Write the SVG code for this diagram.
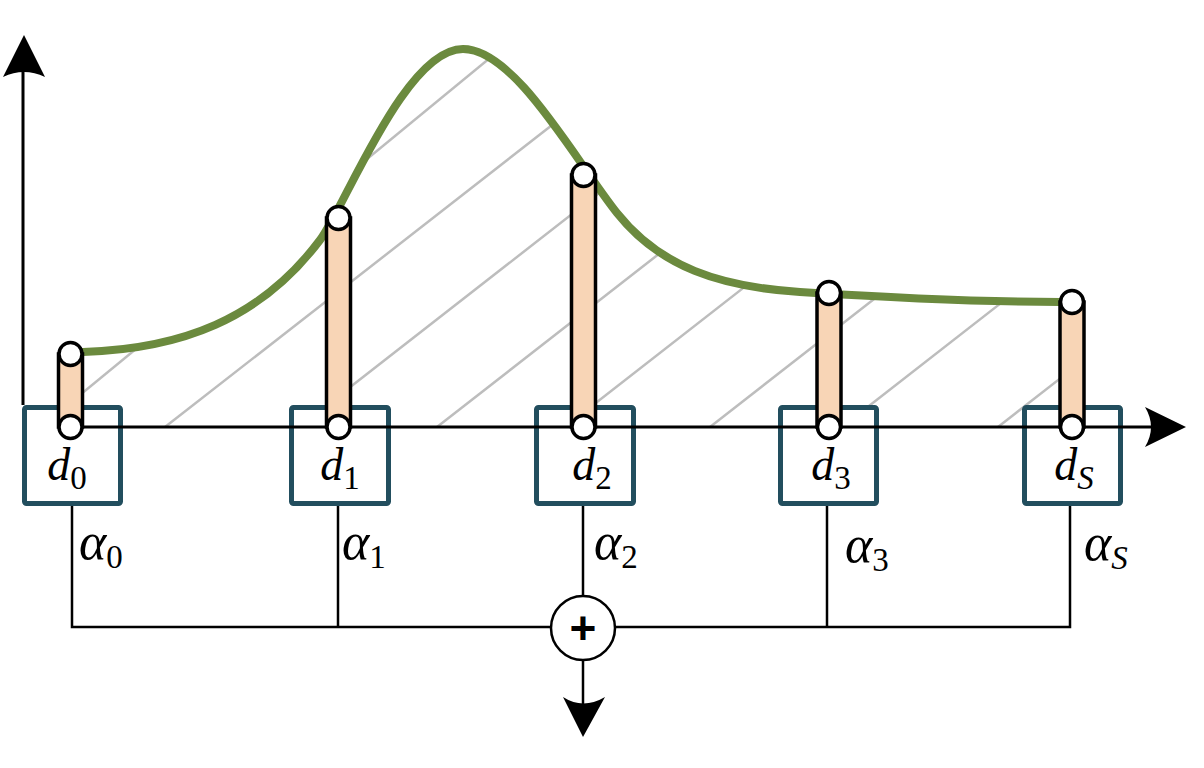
<svg xmlns="http://www.w3.org/2000/svg" width="1204" height="768" viewBox="0 0 1204 768">
<style>
.box{fill:#ffffff;stroke:#224e5e;stroke-width:5}
.tube{fill:#f8d5b6;stroke:#000;stroke-width:3.5}
.cap{fill:#ffffff;stroke:#000;stroke-width:3.5}
.hatch{stroke:#bdbdbd;stroke-width:2.5;fill:none}
.wire{stroke:#000;stroke-width:2.5;fill:none}
.axis{stroke:#000;stroke-width:3;fill:none}
.lbl{font-family:"Liberation Serif","DejaVu Serif",serif;font-size:46px;font-style:italic;fill:#000}
.alb{font-family:"Liberation Serif","DejaVu Serif",serif;font-size:52px;font-style:italic;fill:#000}
.sub{font-size:33px;font-style:normal}
.subi{font-size:33px;font-style:italic}
</style>
<defs>
<clipPath id="area">
<path d="M71,427 L71,352 L83,352 C180,349 260,320 320,240 C345,207 405,49 463,49 C515,49 575,160 617,213 C660,267 720,287 800,292 C880,297 980,302 1060,302 L1072,302 L1072,427 Z"/>
</clipPath>
</defs>
<g id="hatching" clip-path="url(#area)">
<line class="hatch" x1="41" y1="427" x2="541" y2="16"/>
<line class="hatch" x1="165" y1="427" x2="765" y2="-41"/>
<line class="hatch" x1="299" y1="427" x2="899" y2="-41"/>
<line class="hatch" x1="437" y1="427" x2="1037" y2="-41"/>
<line class="hatch" x1="565" y1="427" x2="1165" y2="-41"/>
<line class="hatch" x1="710" y1="427" x2="1310" y2="-41"/>
<line class="hatch" x1="842" y1="427" x2="1442" y2="-41"/>
<line class="hatch" x1="998" y1="427" x2="1598" y2="-41"/>
</g>
<g id="curve">
<path d="M83,352 C180,349 260,320 320,240 C345,207 405,49 463,49 C515,49 575,160 617,213 C660,267 720,287 800,292 C880,297 980,302 1060,302" fill="none" stroke="#6b8a3e" stroke-width="8" stroke-linecap="round"/>
</g>
<g id="node-d0"><rect class="box" x="24.5" y="407.5" width="96" height="96" rx="2"/></g>
<g id="node-d1"><rect class="box" x="291.5" y="407.5" width="97" height="96" rx="2"/></g>
<g id="node-d2"><rect class="box" x="536.5" y="407.5" width="97" height="96" rx="2"/></g>
<g id="node-d3"><rect class="box" x="780.5" y="407.5" width="96" height="96" rx="2"/></g>
<g id="node-dS"><rect class="box" x="1024.5" y="407.5" width="96" height="96" rx="2"/></g>
<g id="connectors">
<line class="axis" x1="23" y1="405" x2="23" y2="70"/>
<path d="M24,35 L45,77 Q24,67 3,77 Z" fill="#000"/>
<line class="axis" x1="71" y1="427" x2="1152" y2="427"/>
<path d="M1186,427 L1145,407 Q1157,427 1145,447 Z" fill="#000"/>
<path class="wire" d="M72,506 V627 H1070 V506"/>
<line class="wire" x1="338" y1="506" x2="338" y2="627"/>
<line class="wire" x1="583" y1="506" x2="583" y2="627"/>
<line class="wire" x1="827" y1="506" x2="827" y2="627"/>
<line class="wire" x1="583" y1="660" x2="583" y2="705"/>
<path d="M583,737 L563,697 Q583,710 605,697 Z" fill="#000"/>
</g>
<g id="sum">
<circle cx="583" cy="628" r="32" fill="#ffffff" stroke="#000" stroke-width="2.5"/>
<text x="583" y="644" text-anchor="middle" font-family="Liberation Sans, Arial, sans-serif" font-weight="bold" font-size="46">+</text>
</g>
<g id="bar-0"><rect class="tube" x="58.5" y="354" width="24" height="73"/><circle class="cap" cx="70.5" cy="354" r="11.5"/><circle class="cap" cx="70.5" cy="427" r="11.5"/></g>
<g id="bar-1"><rect class="tube" x="326.5" y="218" width="24" height="209"/><circle class="cap" cx="338.5" cy="218" r="11.5"/><circle class="cap" cx="338.5" cy="427" r="11.5"/></g>
<g id="bar-2"><rect class="tube" x="571.5" y="175" width="24" height="252"/><circle class="cap" cx="583.5" cy="175" r="11.5"/><circle class="cap" cx="583.5" cy="427" r="11.5"/></g>
<g id="bar-3"><rect class="tube" x="817" y="293" width="24" height="134"/><circle class="cap" cx="829" cy="293" r="11.5"/><circle class="cap" cx="829" cy="427" r="11.5"/></g>
<g id="bar-S"><rect class="tube" x="1060" y="302" width="24" height="125"/><circle class="cap" cx="1072" cy="302" r="11.5"/><circle class="cap" cx="1072" cy="427" r="11.5"/></g>
<g id="labels">
<text class="lbl" x="67" y="480" text-anchor="middle">d<tspan class="sub" dy="9">0</tspan></text>
<text class="lbl" x="340" y="480" text-anchor="middle">d<tspan class="sub" dy="9">1</tspan></text>
<text class="lbl" x="592" y="480" text-anchor="middle">d<tspan class="sub" dy="9">2</tspan></text>
<text class="lbl" x="831" y="480" text-anchor="middle">d<tspan class="sub" dy="9">3</tspan></text>
<text class="lbl" x="1074" y="480" text-anchor="middle">d<tspan class="subi" dy="9">S</tspan></text>
<text class="alb" x="79" y="559">α<tspan class="sub" dy="9">0</tspan></text>
<text class="alb" x="342" y="559">α<tspan class="sub" dy="9">1</tspan></text>
<text class="alb" x="594" y="559">α<tspan class="sub" dy="9">2</tspan></text>
<text class="alb" x="845" y="562">α<tspan class="sub" dy="9">3</tspan></text>
<text class="alb" x="1084" y="560">α<tspan class="subi" dy="9">S</tspan></text>
</g>
</svg>
